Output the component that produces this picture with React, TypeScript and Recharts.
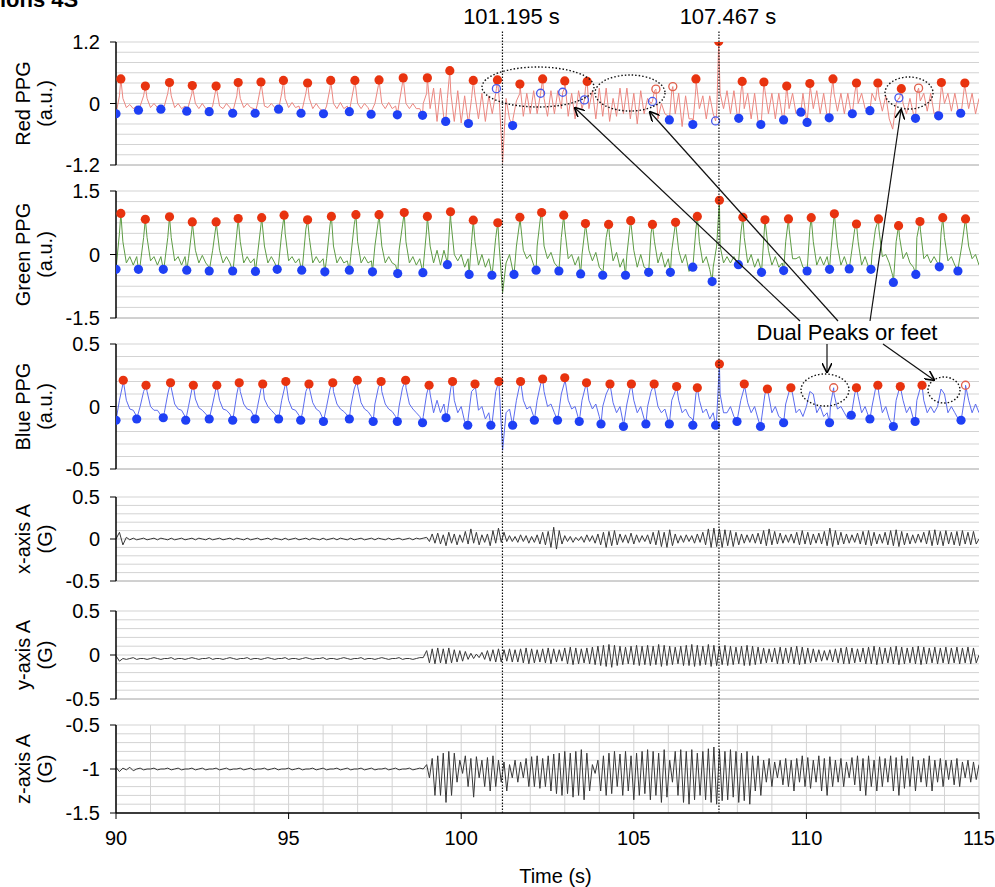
import React from "react";
import { ComposedChart, Line, Scatter, XAxis, YAxis, CartesianGrid, ReferenceLine } from "recharts";

const FONT = '"Liberation Sans", Arial, sans-serif';
const W = 995;
const H = 887;
const PLOT_LEFT = 116;
const PLOT_RIGHT = 979;
const PAD = 10;

type Pt = [number, number];

// time axis
const X_TICKS = [90, 95, 100, 105, 110, 115];
const EVENT_TIMES = [101.195, 107.467];

// PPG traces, sampled every 0.1 s (calm part 90.0-98.9, motion part 99.0-115.0)
const redCalm = [
  -0.15, 0.15, 0.1, -0.08, -0.02, -0.1, -0.05, -0.05, 0.15, 0.1,
  -0.08, 0.0, -0.08, -0.1, -0.05, 0.2, 0.15, -0.08, 0.0, -0.1,
  -0.05, -0.05, 0.2, 0.0, -0.1, 0.0, -0.1, -0.12, -0.05, 0.3,
  -0.05, -0.1, 0.0, -0.08, -0.12, 0.15, 0.1, -0.08, 0.0, -0.08,
  -0.1, 0.0, 0.35, -0.05, -0.08, 0.0, -0.08, -0.1, 0.2, 0.1,
  -0.08, 0.02, -0.08, -0.05, -0.1, 0.2, 0.1, -0.1, 0.0, -0.1,
  -0.15, -0.05, 0.3, 0.0, -0.1, 0.02, -0.1, -0.05, 0.0, 0.35,
  0.0, -0.1, 0.0, -0.08, -0.15, 0.0, 0.35, 0.0, -0.1, 0.02,
  -0.1, -0.05, 0.0, 0.4, 0.0, -0.1, 0.0, -0.1, -0.1, 0.0,
];
const redMotion = [
  0.2, -0.1, 0.3, -0.35, 0.3, -0.3, 0.1, 0.2, -0.35, 0.25,
  -0.38, 0.15, -0.35, 0.1, 0.15, -0.3, 0.2, -0.35, 0.15, -0.2,
  0.2, 0.1, -1.15, 0.1, -0.3, -0.3, 0.05, 0.2, -0.25, 0.2,
  -0.2, 0.25, -0.2, 0.2, 0.1, -0.25, 0.25, -0.2, 0.25, -0.1,
  0.3, -0.25, 0.2, -0.3, 0.25, -0.1, 0.3, -0.1, 0.25, -0.3,
  0.3, -0.25, 0.3, -0.35, 0.1, -0.25, 0.3, -0.2, 0.3, -0.3,
  0.2, -0.4, 0.25, -0.2, 0.1, 0.0, 0.25, -0.3, 0.0, -0.2,
  -0.25, 0.25, -0.2, 0.2, -0.45, 0.15, -0.3, -0.3, 0.3, -0.1,
  0.15, -0.3, 0.15, -0.2, -0.2, 0.2, -0.1, 0.25, -0.2, 0.25,
  -0.25, 0.2, -0.1, 0.2, -0.3, 0.2, -0.35, -0.3, 0.25, -0.2,
  0.2, -0.3, 0.2, -0.25, 0.1, -0.1, 0.2, -0.2, -0.15, 0.2,
  -0.3, 0.25, -0.1, 0.25, -0.2, 0.2, -0.25, 0.1, 0.2, -0.15,
  0.2, -0.2, 0.2, -0.2, 0.2, 0.0, 0.2, -0.1, -0.1, 0.2,
  0.05, 0.15, -0.15, 0.15, -0.3, -0.5, 0.0, 0.1, 0.0, -0.2,
  0.1, -0.2, 0.2, 0.05, 0.2, -0.15, 0.2, -0.2, -0.15, 0.25,
  0.0, 0.2, -0.15, 0.2, -0.15, -0.1, 0.3, -0.1, 0.2, -0.2,
  0.1,
];
const greenCalm = [
  -0.3, 0.5, 0.3, -0.2, -0.05, -0.25, -0.05, -0.25, 0.4, 0.4,
  -0.15, -0.05, -0.25, -0.05, -0.25, 0.4, 0.4, -0.15, -0.05, -0.25,
  -0.05, -0.1, 0.6, 0.1, -0.2, -0.02, -0.2, -0.3, 0.1, 0.7,
  0.1, -0.2, -0.05, -0.2, -0.3, 0.5, 0.3, -0.2, -0.05, -0.2,
  -0.1, 0.0, 0.7, 0.2, -0.2, -0.05, -0.2, -0.3, 0.5, 0.5,
  -0.15, -0.05, -0.2, -0.1, -0.3, 0.6, 0.4, -0.2, -0.05, -0.2,
  -0.1, -0.1, 0.7, 0.2, -0.2, -0.05, -0.2, -0.15, -0.05, 0.7,
  0.3, -0.2, -0.05, -0.2, -0.15, 0.2, 0.8, 0.2, -0.2, -0.05,
  -0.2, -0.25, 0.1, 0.7, 0.3, -0.2, -0.05, -0.25, -0.1, -0.3,
];
const greenMotion = [
  0.6, 0.2, -0.2, 0.1, -0.25, 0.1, -0.2, 0.8, 0.0, -0.15,
  0.0, -0.3, -0.1, 0.3, 0.3, -0.25, 0.0, -0.3, -0.1, -0.45,
  0.4, 0.2, -0.9, -0.2, 0.0, -0.4, 0.2, 0.8, 0.1, -0.1,
  0.0, -0.25, 0.2, 0.9, 0.2, -0.1, 0.05, -0.2, -0.3, 0.4,
  0.6, -0.1, 0.0, -0.25, -0.05, 0.0, 0.7, 0.1, -0.15, 0.05,
  -0.3, -0.4, 0.4, 0.4, -0.15, 0.05, -0.3, -0.1, 0.0, 0.75,
  0.1, -0.3, 0.0, -0.3, -0.35, 0.5, 0.3, -0.2, 0.05, -0.3,
  -0.1, 0.1, 0.7, 0.1, -0.2, 0.0, -0.4, -0.25, 0.6, 0.3,
  -0.2, -0.05, -0.35, -0.3, 0.2, 0.2, -0.2, -0.05, -0.2, -0.05,
  -0.2, 0.5, 0.4, -0.2, 0.0, -0.3, -0.1, -0.4, 0.8, 0.1,
  -0.25, -0.05, -0.3, -0.2, 0.3, 0.6, -0.1, -0.1, -0.05, -0.3,
  -0.35, 0.6, 0.3, -0.25, -0.05, -0.25, -0.05, 0.0, 0.9, 0.2,
  -0.25, -0.05, -0.3, 0.0, 0.6, 0.3, -0.25, -0.05, -0.3, 0.0,
  0.6, 0.6, -0.05, 0.0, -0.2, -0.5, 0.3, 0.4, -0.1, 0.05,
  -0.2, -0.3, 0.4, 0.6, -0.1, 0.0, -0.2, -0.05, -0.2, 0.5,
  0.4, -0.15, -0.05, -0.25, -0.3, 0.2, 0.8, 0.2, -0.1, 0.0,
  -0.25,
];
const blueCalm = [
  -0.1, 0.05, 0.18, 0.05, -0.02, -0.03, -0.08, 0.0, 0.12, 0.12,
  0.0, -0.03, -0.03, -0.07, -0.05, 0.1, 0.15, 0.02, -0.02, -0.03,
  -0.08, 0.0, 0.14, 0.06, -0.01, -0.03, -0.06, -0.09, 0.02, 0.15,
  0.05, -0.02, -0.03, -0.06, -0.08, 0.1, 0.12, 0.02, -0.02, -0.03,
  -0.08, 0.0, 0.14, 0.06, 0.0, -0.03, -0.06, -0.09, 0.05, 0.17,
  0.05, -0.02, -0.03, -0.07, -0.05, 0.12, 0.15, 0.03, -0.02, -0.04,
  -0.1, 0.0, 0.14, 0.12, 0.02, -0.02, -0.04, -0.07, 0.0, 0.14,
  0.16, 0.03, -0.02, -0.04, -0.08, 0.02, 0.15, 0.12, 0.02, -0.02,
  -0.04, -0.08, 0.0, 0.15, 0.15, 0.02, -0.02, -0.05, -0.08, -0.08,
];
const blueMotion = [
  0.1, 0.1, -0.05, 0.05, -0.05, 0.02, -0.05, 0.15, 0.05, -0.05,
  0.0, -0.12, -0.1, 0.12, 0.15, -0.03, 0.0, -0.1, -0.05, -0.12,
  0.12, 0.15, -0.35, -0.05, -0.02, -0.13, 0.05, 0.18, 0.05, -0.02,
  0.0, -0.08, 0.05, 0.18, 0.12, 0.0, 0.02, -0.05, -0.1, 0.1,
  0.2, 0.05, -0.02, 0.0, -0.1, 0.05, 0.16, 0.05, -0.02, 0.02,
  -0.08, 0.0, 0.1, 0.16, 0.03, -0.05, 0.0, -0.14, 0.02, 0.15,
  0.05, -0.05, 0.0, -0.1, 0.0, 0.12, 0.15, 0.0, -0.05, -0.02,
  -0.12, 0.05, 0.12, 0.05, -0.05, -0.02, -0.08, -0.1, 0.1, 0.05,
  -0.05, -0.02, -0.1, -0.05, -0.1, 0.1, -0.05, -0.05, 0.0, -0.08,
  -0.1, 0.05, 0.15, 0.03, -0.05, 0.0, -0.1, -0.1, 0.1, 0.1,
  -0.05, 0.0, -0.08, -0.1, 0.02, 0.12, 0.1, -0.05, -0.02, -0.08,
  0.0, 0.12, 0.1, -0.05, 0.0, -0.08, -0.05, 0.02, 0.1, -0.02,
  0.0, -0.05, -0.1, -0.05, 0.1, 0.08, -0.05, 0.0, -0.08, 0.0,
  0.14, 0.1, -0.05, 0.0, -0.1, -0.15, 0.05, 0.15, 0.05, -0.05,
  0.0, -0.1, 0.05, 0.15, 0.05, -0.05, 0.0, -0.05, 0.0, 0.14,
  0.1, -0.05, 0.0, -0.05, -0.1, -0.08, 0.1, 0.05, -0.05, 0.02,
  -0.05,
];

// detected peaks (red dots) and feet (blue dots); "Open" = hollow markers
const redPeaks: Pt[] = [
  [90.14, 0.48], [90.85, 0.34], [91.55, 0.41], [92.21, 0.35], [92.9, 0.34], [93.54, 0.41], [94.2, 0.42],
  [94.85, 0.45], [95.55, 0.4], [96.22, 0.45], [96.92, 0.45], [97.62, 0.46], [98.32, 0.5], [99.02, 0.5],
  [99.67, 0.64], [100.35, 0.45], [101.05, 0.46], [101.7, 0.38], [102.36, 0.48], [103.0, 0.44], [103.65, 0.43],
  [106.8, 0.48], [107.46, 1.21], [108.14, 0.43], [108.77, 0.42], [109.43, 0.34], [110.1, 0.39], [110.77, 0.48],
  [111.45, 0.4], [112.07, 0.4], [112.75, 0.29], [113.91, 0.41], [114.59, 0.4],
];
const redPeaksOpen: Pt[] = [[105.64, 0.28], [106.13, 0.33], [113.25, 0.3]];
const redFeet: Pt[] = [
  [90.0, -0.2], [90.65, -0.13], [91.3, -0.11], [92.05, -0.15], [92.7, -0.16], [93.38, -0.19], [94.03, -0.19],
  [94.71, -0.11], [95.36, -0.19], [96.01, -0.2], [96.76, -0.16], [97.39, -0.21], [98.15, -0.22], [98.88, -0.23],
  [99.55, -0.35], [100.21, -0.39], [101.49, -0.43], [106.03, -0.32], [106.71, -0.41], [108.04, -0.29],
  [108.68, -0.41], [109.34, -0.32], [109.84, -0.17], [110.02, -0.37], [110.66, -0.28], [111.33, -0.2],
  [111.84, -0.14], [113.16, -0.29], [113.83, -0.24], [114.47, -0.19],
];
const redFeetOpen: Pt[] = [
  [101.02, 0.29], [102.3, 0.2], [102.94, 0.22], [103.57, 0.07], [105.54, 0.04], [107.37, -0.34], [112.68, 0.11],
];

const greenPeaks: Pt[] = [
  [90.14, 0.97], [90.85, 0.83], [91.55, 0.89], [92.21, 0.77], [92.9, 0.77], [93.54, 0.85], [94.22, 0.87],
  [94.87, 0.93], [95.55, 0.82], [96.24, 0.9], [96.95, 0.94], [97.62, 0.94], [98.35, 0.99], [99.02, 0.9],
  [99.69, 1.01], [100.35, 0.81], [101.06, 0.75], [101.7, 0.88], [102.33, 0.99], [102.97, 0.93], [103.6, 0.73],
  [104.27, 0.71], [104.91, 0.8], [105.54, 0.71], [106.21, 0.76], [106.84, 0.9], [107.48, 1.28], [108.16, 0.88],
  [108.8, 0.82], [109.48, 0.84], [110.14, 0.87], [110.81, 0.96], [111.45, 0.72], [112.09, 0.84], [112.67, 0.68],
  [113.29, 0.78], [113.95, 0.87], [114.61, 0.84],
];
const greenFeet: Pt[] = [
  [90.0, -0.35], [90.65, -0.35], [91.37, -0.35], [92.05, -0.37], [92.7, -0.39], [93.38, -0.39], [94.04, -0.4],
  [94.67, -0.35], [95.38, -0.37], [96.05, -0.41], [96.76, -0.37], [97.43, -0.41], [98.16, -0.45], [98.89, -0.43],
  [99.6, -0.24], [100.23, -0.47], [100.89, -0.49], [101.53, -0.47], [102.17, -0.37], [102.83, -0.39],
  [103.46, -0.46], [104.1, -0.49], [104.76, -0.49], [105.43, -0.42], [106.06, -0.42], [106.71, -0.3],
  [107.27, -0.64], [108.03, -0.24], [108.7, -0.42], [109.34, -0.38], [110.02, -0.39], [110.67, -0.35],
  [111.24, -0.34], [111.87, -0.35], [112.52, -0.66], [113.17, -0.47], [113.85, -0.29], [114.39, -0.39],
];

const bluePeaks: Pt[] = [
  [90.21, 0.21], [90.87, 0.17], [91.58, 0.19], [92.24, 0.17], [92.92, 0.17], [93.57, 0.19], [94.25, 0.18],
  [94.92, 0.2], [95.59, 0.18], [96.28, 0.19], [96.99, 0.21], [97.68, 0.2], [98.39, 0.21], [99.07, 0.17],
  [99.75, 0.2], [100.4, 0.18], [101.09, 0.2], [101.72, 0.2], [102.36, 0.22], [103.0, 0.23], [103.63, 0.19],
  [104.31, 0.18], [104.93, 0.18], [105.59, 0.18], [106.24, 0.16], [106.84, 0.15], [107.48, 0.34], [108.2, 0.18],
  [108.87, 0.14], [109.55, 0.15], [111.45, 0.15], [112.07, 0.17], [112.72, 0.16], [113.35, 0.17],
];
const bluePeaksOpen: Pt[] = [[110.79, 0.15], [114.61, 0.17]];
const blueFeet: Pt[] = [
  [90.0, -0.11], [90.6, -0.1], [91.37, -0.09], [92.02, -0.11], [92.7, -0.1], [93.38, -0.11], [94.03, -0.1],
  [94.71, -0.1], [95.35, -0.11], [96.01, -0.12], [96.76, -0.1], [97.45, -0.12], [98.15, -0.12], [98.88, -0.13],
  [99.56, -0.09], [100.19, -0.15], [100.86, -0.15], [101.49, -0.15], [102.12, -0.11], [102.79, -0.11],
  [103.42, -0.12], [104.05, -0.14], [104.7, -0.16], [105.35, -0.14], [106.03, -0.14], [106.71, -0.15],
  [107.37, -0.15], [107.99, -0.12], [108.67, -0.16], [109.34, -0.13], [110.67, -0.13], [111.3, -0.07],
  [111.84, -0.1], [112.52, -0.16], [113.15, -0.12], [114.48, -0.11],
];

// accelerometer: quiet part every 0.1 s (90.0-98.9), active part every 0.08 s (99.0-115.0)
const accXQuiet = [
  0.0, 0.08, -0.07, 0.02, -0.01, 0.01, -0.01, 0.0, 0.01, -0.01,
  0.0, 0.01, -0.01, 0.01, 0.0, -0.01, 0.01, -0.01, 0.0, 0.01,
  -0.01, 0.0, 0.01, -0.01, 0.01, 0.0, -0.01, 0.01, -0.01, 0.0,
  0.01, -0.01, 0.0, 0.01, -0.01, 0.01, 0.0, -0.01, 0.01, -0.01,
  0.0, 0.01, -0.01, 0.0, 0.01, -0.01, 0.01, 0.0, -0.01, 0.01,
  -0.01, 0.0, 0.01, -0.01, 0.0, 0.01, -0.01, 0.01, 0.0, -0.01,
  0.01, -0.01, 0.0, 0.01, -0.01, 0.01, 0.0, -0.01, 0.01, -0.01,
  0.0, 0.01, -0.01, 0.0, 0.01, -0.01, 0.01, 0.0, -0.01, 0.01,
  -0.01, 0.0, 0.01, -0.01, 0.0, 0.01, -0.01, 0.01, 0.0, 0.01,
];
const accXActive = [
  0.02, -0.03, 0.06, -0.05, 0.07, -0.06, 0.05, -0.08, 0.08, -0.05,
  0.06, -0.07, 0.05, -0.04, 0.09, -0.06, 0.12, -0.05, 0.08, -0.07,
  0.05, -0.04, 0.06, -0.08, 0.1, -0.05, 0.13, -0.04, 0.08, -0.03,
  0.04, -0.03, 0.03, -0.04, 0.05, -0.03, 0.04, -0.05, 0.03, -0.04,
  0.05, -0.06, 0.08, -0.07, 0.09, -0.1, 0.14, -0.12, 0.1, -0.06,
  0.04, -0.03, 0.03, -0.04, 0.02, -0.02, 0.03, -0.04, 0.05, -0.03,
  0.04, -0.05, 0.06, -0.07, 0.08, -0.1, 0.09, -0.08, 0.1, -0.07,
  0.06, -0.04, 0.05, -0.05, 0.07, -0.06, 0.05, -0.04, 0.04, -0.03,
  0.05, -0.06, 0.08, -0.07, 0.1, -0.09, 0.08, -0.1, 0.11, -0.08,
  0.06, -0.05, 0.04, -0.04, 0.05, -0.03, 0.04, -0.05, 0.06, -0.04,
  0.08, -0.07, 0.12, -0.1, 0.13, -0.09, 0.12, -0.1, 0.11, -0.08,
  0.1, -0.09, 0.08, -0.07, 0.06, -0.05, 0.05, -0.04, 0.06, -0.05,
  0.07, -0.06, 0.1, -0.08, 0.12, -0.07, 0.09, -0.06, 0.07, -0.05,
  0.05, -0.04, 0.06, -0.05, 0.08, -0.07, 0.1, -0.06, 0.08, -0.07,
  0.06, -0.05, 0.07, -0.06, 0.09, -0.08, 0.13, -0.09, 0.1, -0.07,
  0.08, -0.06, 0.06, -0.05, 0.05, -0.04, 0.07, -0.06, 0.09, -0.07,
  0.1, -0.08, 0.08, -0.06, 0.06, -0.05, 0.08, -0.07, 0.1, -0.08,
  0.11, -0.09, 0.09, -0.07, 0.07, -0.06, 0.05, -0.05, 0.06, -0.04,
  0.08, -0.06, 0.1, -0.08, 0.11, -0.07, 0.09, -0.08, 0.1, -0.06,
  0.08, -0.07, 0.09, -0.08, 0.1, -0.06, 0.08, -0.07, 0.09, -0.06,
  0.0,
];
const accYQuiet = [
  -0.01, -0.07, -0.04, -0.05, -0.04, -0.03, -0.05, -0.04, -0.04, -0.05,
  -0.04, -0.03, -0.04, -0.05, -0.04, -0.04, -0.03, -0.05, -0.04, -0.04,
  -0.05, -0.04, -0.03, -0.04, -0.05, -0.04, -0.04, -0.03, -0.05, -0.04,
  -0.04, -0.05, -0.04, -0.03, -0.04, -0.05, -0.04, -0.04, -0.03, -0.05,
  -0.04, -0.04, -0.05, -0.04, -0.03, -0.04, -0.05, -0.04, -0.04, -0.03,
  -0.05, -0.04, -0.04, -0.05, -0.04, -0.03, -0.04, -0.05, -0.04, -0.04,
  -0.03, -0.05, -0.04, -0.04, -0.05, -0.04, -0.03, -0.04, -0.05, -0.04,
  -0.04, -0.03, -0.05, -0.04, -0.04, -0.05, -0.04, -0.03, -0.04, -0.05,
  -0.04, -0.04, -0.03, -0.05, -0.04, -0.04, -0.05, -0.04, -0.03, -0.03,
];
const accYActive = [
  0.05, -0.09, 0.07, -0.1, 0.08, -0.09, 0.07, -0.1, 0.08, -0.09,
  0.06, -0.08, 0.05, -0.07, 0.04, -0.05, 0.02, -0.04, 0.01, -0.03,
  0.03, -0.05, 0.05, -0.07, 0.06, -0.08, 0.07, -0.08, 0.06, -0.07,
  0.07, -0.08, 0.06, -0.08, 0.07, -0.09, 0.08, -0.1, 0.07, -0.09,
  0.06, -0.08, 0.07, -0.09, 0.08, -0.1, 0.07, -0.08, 0.06, -0.07,
  0.08, -0.1, 0.09, -0.11, 0.08, -0.1, 0.07, -0.09, 0.08, -0.1,
  0.09, -0.11, 0.1, -0.12, 0.11, -0.13, 0.12, -0.14, 0.11, -0.12,
  0.1, -0.11, 0.09, -0.1, 0.1, -0.11, 0.11, -0.12, 0.1, -0.11,
  0.11, -0.12, 0.1, -0.11, 0.12, -0.13, 0.11, -0.12, 0.1, -0.11,
  0.09, -0.1, 0.1, -0.12, 0.11, -0.12, 0.12, -0.13, 0.11, -0.12,
  0.1, -0.11, 0.12, -0.13, 0.11, -0.12, 0.1, -0.11, 0.11, -0.12,
  0.1, -0.11, 0.09, -0.1, 0.1, -0.12, 0.11, -0.12, 0.1, -0.11,
  0.09, -0.1, 0.08, -0.09, 0.07, -0.08, 0.08, -0.1, 0.09, -0.1,
  0.08, -0.09, 0.09, -0.1, 0.1, -0.11, 0.09, -0.1, 0.08, -0.09,
  0.07, -0.08, 0.06, -0.07, 0.05, -0.06, 0.06, -0.08, 0.07, -0.09,
  0.08, -0.1, 0.09, -0.1, 0.08, -0.09, 0.07, -0.08, 0.08, -0.1,
  0.09, -0.1, 0.1, -0.11, 0.09, -0.1, 0.08, -0.09, 0.09, -0.1,
  0.1, -0.11, 0.09, -0.1, 0.08, -0.09, 0.09, -0.1, 0.1, -0.11,
  0.09, -0.1, 0.08, -0.09, 0.09, -0.1, 0.08, -0.09, 0.09, -0.1,
  0.08, -0.09, 0.09, -0.1, 0.08, -0.09, 0.09, -0.1, 0.08, -0.09,
  0.0,
];
const accZQuiet = [
  -0.98, -1.03, -0.99, -1.01, -0.98, -1.02, -1.0, -0.99, -1.01, -1.0,
  -1.0, -0.99, -1.01, -1.0, -1.0, -0.99, -1.01, -1.0, -0.99, -1.01,
  -1.0, -1.0, -0.99, -1.01, -1.0, -0.99, -1.01, -1.0, -1.0, -0.99,
  -1.01, -1.0, -0.99, -1.01, -1.0, -1.0, -0.99, -1.01, -1.0, -0.99,
  -1.01, -1.0, -1.0, -0.99, -1.01, -1.0, -0.99, -1.01, -1.0, -1.0,
  -0.99, -1.01, -1.0, -0.99, -1.01, -1.0, -1.0, -0.99, -1.01, -1.0,
  -0.99, -1.01, -1.0, -1.0, -0.99, -1.01, -1.0, -0.99, -1.01, -1.0,
  -1.0, -0.99, -1.01, -1.0, -0.99, -1.01, -1.0, -1.0, -0.99, -1.01,
  -1.0, -0.99, -1.01, -1.0, -1.0, -0.99, -1.01, -1.0, -0.99, -1.0,
];
const accZActive = [
  -0.95, -1.1, -0.88, -1.3, -0.85, -1.3, -0.82, -1.38, -0.8, -1.3,
  -0.82, -1.15, -0.9, -1.05, -0.85, -1.2, -0.88, -1.32, -0.86, -1.1,
  -0.9, -1.2, -0.87, -1.25, -0.85, -1.2, -0.9, -1.15, -0.92, -1.25,
  -0.95, -1.1, -0.9, -1.15, -0.92, -1.1, -0.88, -1.2, -0.86, -1.2,
  -0.85, -1.22, -0.88, -1.2, -0.85, -1.25, -0.83, -1.28, -0.82, -1.3,
  -0.8, -1.28, -0.82, -1.32, -0.8, -1.3, -0.78, -1.35, -0.82, -1.25,
  -0.95, -1.05, -0.9, -1.25, -0.85, -1.3, -0.82, -1.28, -0.8, -1.2,
  -0.83, -1.3, -0.8, -1.25, -0.85, -1.35, -0.82, -1.3, -0.8, -1.28,
  -0.78, -1.35, -0.8, -1.3, -0.82, -1.38, -0.78, -1.32, -0.9, -1.15,
  -0.8, -1.3, -0.78, -1.38, -0.8, -1.4, -0.78, -1.35, -0.82, -1.3,
  -0.8, -1.35, -0.77, -1.38, -0.75, -1.4, -0.78, -1.36, -0.8, -1.35,
  -0.78, -1.32, -0.8, -1.38, -0.82, -1.36, -0.8, -1.4, -0.85, -1.25,
  -0.85, -1.3, -0.9, -1.15, -0.88, -1.2, -0.92, -1.1, -0.9, -1.18,
  -0.88, -1.2, -0.9, -1.25, -0.88, -1.15, -0.85, -1.2, -0.87, -1.22,
  -0.9, -1.15, -0.85, -1.25, -0.88, -1.3, -0.86, -1.2, -0.9, -1.15,
  -0.88, -1.2, -0.92, -1.1, -0.87, -1.18, -0.85, -1.25, -0.88, -1.3,
  -0.85, -1.2, -0.9, -1.25, -0.86, -1.2, -0.88, -1.15, -0.85, -1.25,
  -0.87, -1.3, -0.85, -1.22, -0.88, -1.2, -0.86, -1.25, -0.9, -1.15,
  -0.88, -1.2, -0.85, -1.25, -0.9, -1.15, -0.88, -1.2, -0.9, -1.12,
  -0.9, -1.18, -0.88, -1.2, -0.92, -1.1, -0.9, -1.15, -0.92, -1.12,
  -0.95,
];

type P = { t: number; v: number };

const sampled = (start: number, step: number, values: number[]): P[] =>
  values.map((v, i) => ({ t: Math.round((start + i * step) * 1000) / 1000, v }));
const toPts = (list: Pt[]): P[] => list.map(([t, v]) => ({ t, v }));
const merge = (...parts: P[][]): P[] => parts.flat().sort((a, b) => a.t - b.t);
const range = (lo: number, hi: number, step: number) => {
  const out: number[] = [];
  const n = Math.round((hi - lo) / step);
  for (let i = 0; i <= n; i++) out.push(Math.round((lo + i * step) * 1000) / 1000);
  return out;
};
const SECONDS = range(90, 115, 1);

const RED_DOT = "#e8330f";
const BLUE_DOT = "#1f40f5";

const dot = (color: string, open: boolean) => (props: any) => (
  <circle
    cx={props.cx}
    cy={props.cy}
    r={open ? 4 : 4.6}
    fill={open ? "none" : color}
    stroke={open ? color : "none"}
    strokeWidth={1.3}
  />
);

const AxisTitle = (props: any) => {
  const vb = props.viewBox || {};
  const cy = (vb.y ?? PAD) + (vb.height ?? 100) / 2;
  const [a, b] = props.lines as string[];
  return (
    <g fontFamily={FONT} fontSize={20} fill="#000">
      <text x={30} y={cy} textAnchor="middle" transform={`rotate(-90 30 ${cy})`}>{a}</text>
      <text x={52} y={cy} textAnchor="middle" transform={`rotate(-90 52 ${cy})`}>{b}</text>
    </g>
  );
};

const EventLabel = (props: any) => {
  const vb = props.viewBox || {};
  return (
    <text x={(vb.x ?? 0) + 9} y={(vb.y ?? 30) - 6} textAnchor="middle" fontFamily={FONT} fontSize={22} fill="#000">
      {props.text}
    </text>
  );
};

type Marks = { data: P[]; color: string; open?: boolean };

type PanelProps = {
  top: number;
  plotH: number;
  axisH: number;
  bottom?: boolean;
  data: P[];
  domain: [number, number];
  ticks: number[];
  gridStep: number;
  title: [string, string];
  color: string;
  marks?: Marks[];
};

function Panel(p: PanelProps) {
  const hGrid = range(p.domain[0], p.domain[1], p.gridStep);
  const axisColor = p.bottom ? "#000" : "#b8b8b8";
  return (
    <div style={{ position: "absolute", left: 0, top: p.top - PAD }}>
      <ComposedChart
        width={W}
        height={PAD + p.plotH + p.axisH}
        data={p.data}
        margin={{ top: PAD, right: W - PLOT_RIGHT, bottom: 0, left: 0 }}
      >
        <CartesianGrid stroke="#d3d3d3" verticalValues={SECONDS} horizontalValues={hGrid} />
        <XAxis
          type="number"
          dataKey="t"
          domain={[90, 115]}
          ticks={X_TICKS}
          interval={0}
          allowDataOverflow
          height={p.axisH}
          tick={p.bottom ? { fill: "#000", fontSize: 20, fontFamily: FONT } : false}
          tickLine={{ stroke: axisColor }}
          axisLine={{ stroke: axisColor, strokeWidth: p.bottom ? 1.5 : 1 }}
          tickSize={6}
          tickMargin={12}
          label={
            p.bottom
              ? { value: "Time (s)", position: "insideBottom", offset: 4, dx: 8, fontSize: 20, fill: "#000", fontFamily: FONT }
              : undefined
          }
        />
        <YAxis
          type="number"
          domain={p.domain}
          ticks={p.ticks}
          interval={0}
          allowDataOverflow
          width={PLOT_LEFT}
          tick={{ fill: "#000", fontSize: 20, fontFamily: FONT }}
          tickLine={{ stroke: "#000" }}
          axisLine={{ stroke: "#000", strokeWidth: 1.5 }}
          tickSize={6}
          tickMargin={10}
          label={<AxisTitle lines={p.title} />}
        />
        <Line type="linear" dataKey="v" stroke={p.color} strokeWidth={1} dot={false} isAnimationActive={false} />
        {(p.marks || []).map((m, i) => (
          <Scatter key={i} data={m.data} dataKey="v" shape={dot(m.color, !!m.open)} isAnimationActive={false} />
        ))}
      </ComposedChart>
    </div>
  );
}

const ELLIPSES = [
  [538, 87, 56, 20],
  [630, 93, 35, 18],
  [909, 93, 24, 16],
  [825, 390, 24, 16],
  [944, 390, 16, 13],
];
const ARROWS = [
  [800, 321, 575, 108],
  [838, 321, 650, 112],
  [870, 321, 901, 110],
  [827, 344, 827, 372],
  [883, 344, 934, 380],
];

// invisible span so the overlay chart has a series and a y range
const overlaySpan = [
  { t: 90, v: 0 },
  { t: 115, v: 1 },
];

export default function App() {
  const redTrace = merge(
    sampled(90, 0.1, redCalm), sampled(99, 0.1, redMotion),
    toPts(redPeaks), toPts(redPeaksOpen), toPts(redFeet), toPts(redFeetOpen),
  );
  const greenTrace = merge(
    sampled(90, 0.1, greenCalm), sampled(99, 0.1, greenMotion), toPts(greenPeaks), toPts(greenFeet),
  );
  const blueTrace = merge(
    sampled(90, 0.1, blueCalm), sampled(99, 0.1, blueMotion),
    toPts(bluePeaks), toPts(bluePeaksOpen), toPts(blueFeet),
  );
  const xTrace = merge(sampled(90, 0.1, accXQuiet), sampled(99, 0.08, accXActive));
  const yTrace = merge(sampled(90, 0.1, accYQuiet), sampled(99, 0.08, accYActive));
  const zTrace = merge(sampled(90, 0.1, accZQuiet), sampled(99, 0.08, accZActive));

  return (
    <div style={{ position: "absolute", left: 0, top: 0, width: W, height: H, background: "#fff", fontFamily: FONT }}>
      <Panel
        top={42} plotH={123} axisH={16} data={redTrace} domain={[-1.2, 1.2]} ticks={[-1.2, 0, 1.2]} gridStep={0.2}
        title={["Red PPG", "(a.u.)"]} color="#ec8780"
        marks={[
          { data: toPts(redPeaks), color: RED_DOT },
          { data: toPts(redFeet), color: BLUE_DOT },
          { data: toPts(redPeaksOpen), color: "#e0604c", open: true },
          { data: toPts(redFeetOpen), color: "#4658ee", open: true },
        ]}
      />
      <Panel
        top={191} plotH={127} axisH={16} data={greenTrace} domain={[-1.5, 1.5]} ticks={[-1.5, 0, 1.5]} gridStep={0.25}
        title={["Green PPG", "(a.u.)"]} color="#5e9c44"
        marks={[
          { data: toPts(greenPeaks), color: RED_DOT },
          { data: toPts(greenFeet), color: BLUE_DOT },
        ]}
      />
      <Panel
        top={344} plotH={125} axisH={16} data={blueTrace} domain={[-0.5, 0.5]} ticks={[-0.5, 0, 0.5]} gridStep={0.1}
        title={["Blue PPG", "(a.u.)"]} color="#5b6cf0"
        marks={[
          { data: toPts(bluePeaks), color: RED_DOT },
          { data: toPts(blueFeet), color: BLUE_DOT },
          { data: toPts(bluePeaksOpen), color: "#e0604c", open: true },
        ]}
      />
      <Panel
        top={497} plotH={84} axisH={16} data={xTrace} domain={[-0.5, 0.5]} ticks={[-0.5, 0, 0.5]} gridStep={0.1}
        title={["x-axis A", "(G)"]} color="#383838"
      />
      <Panel
        top={611} plotH={88} axisH={16} data={yTrace} domain={[-0.5, 0.5]} ticks={[-0.5, 0, 0.5]} gridStep={0.1}
        title={["y-axis A", "(G)"]} color="#383838"
      />
      <Panel
        top={725} plotH={88} axisH={74} bottom data={zTrace} domain={[-1.5, -0.5]} ticks={[-1.5, -1, -0.5]} gridStep={0.1}
        title={["z-axis A", "(G)"]} color="#383838"
      />

      <div style={{ position: "absolute", left: 0, top: 0 }}>
        <ComposedChart
          width={W}
          height={H}
          data={overlaySpan}
          margin={{ top: 30, right: W - PLOT_RIGHT, bottom: H - 813, left: PLOT_LEFT }}
        >
          <XAxis type="number" dataKey="t" domain={[90, 115]} allowDataOverflow hide />
          <YAxis type="number" domain={[0, 1]} allowDataOverflow hide />
          <Line dataKey="v" stroke="none" dot={false} isAnimationActive={false} />
          {EVENT_TIMES.map((t) => (
            <ReferenceLine
              key={t}
              x={t}
              stroke="#111"
              strokeWidth={1.2}
              strokeDasharray="1.5 1.5"
              ifOverflow="visible"
              label={<EventLabel text={`${t} s`} />}
            />
          ))}
        </ComposedChart>
      </div>

      <svg width={W} height={H} style={{ position: "absolute", left: 0, top: 0, pointerEvents: "none" }}>
        <defs>
          <marker id="arrowHead" viewBox="0 0 10 10" refX="9" refY="5" markerWidth="10" markerHeight="10"
            markerUnits="userSpaceOnUse" orient="auto">
            <path d="M0,0 L10,5 L0,10" fill="none" stroke="#000" strokeWidth="1.6" />
          </marker>
        </defs>
        {ELLIPSES.map(([cx, cy, rx, ry], i) => (
          <ellipse key={i} cx={cx} cy={cy} rx={rx} ry={ry} fill="none" stroke="#111" strokeWidth={1.4} strokeDasharray="1.5 2" />
        ))}
        {ARROWS.map(([x1, y1, x2, y2], i) => (
          <line key={i} x1={x1} y1={y1} x2={x2} y2={y2} stroke="#111" strokeWidth={1.2} markerEnd="url(#arrowHead)" />
        ))}
        <text x={847} y={340} textAnchor="middle" fontFamily={FONT} fontSize={22} fill="#000">Dual Peaks or feet</text>
        <text x={0} y={7} fontFamily={FONT} fontSize={22} fontWeight="bold" fill="#000">ions 4S</text>
      </svg>
    </div>
  );
}
